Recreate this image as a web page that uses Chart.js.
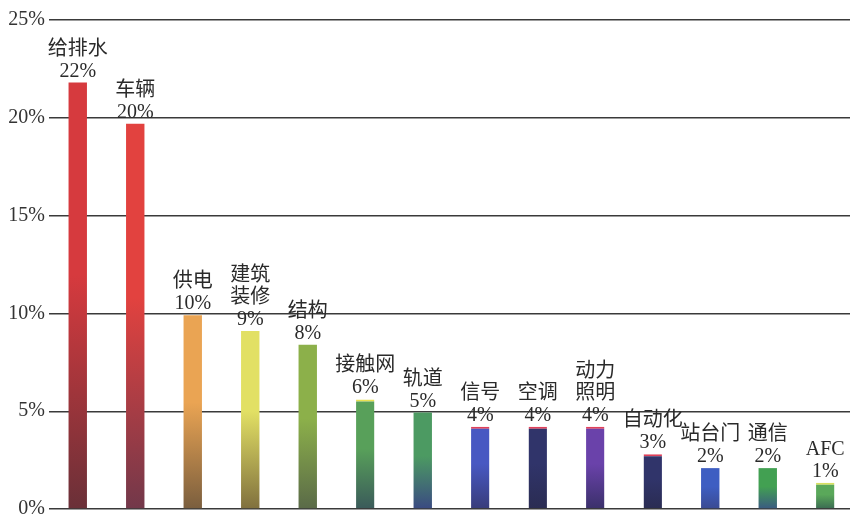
<!DOCTYPE html>
<html>
<head>
<meta charset="utf-8">
<script src="https://cdn.jsdelivr.net/npm/chart.js@4"></script>
<style>
html,body{margin:0;padding:0;background:#fff;overflow:hidden;}
#wrap{width:854px;height:525px;}
</style>
</head>
<body>
<div id="wrap"><canvas id="c" width="854" height="525"></canvas></div>
<script>
const categories = ['给排水', '车辆', '供电', ['建筑', '装修'], '结构', '接触网', '轨道', '信号', '空调', ['动力', '照明'], '自动化', '站台门', '通信', 'AFC'];
const values = [21.8, 19.7, 9.9, 9.1, 8.4, 5.6, 4.93, 4.2, 4.2, 4.2, 2.8, 2.09, 2.09, 1.34];
const pctLabels = ['22%', '20%', '10%', '9%', '8%', '6%', '5%', '4%', '4%', '4%', '3%', '2%', '2%', '1%'];
const yTicks = [0, 5, 10, 15, 20, 25];

const topColors = ['#d63a3e', '#e2423f', '#eaa453', '#e2e064', '#8cb04a', '#58a05a', '#4c9a62', '#4858c2', '#30346a', '#6a42aa', '#30346a', '#3e5ec2', '#42a052', '#5aa85a'];
const bottomColors = ['#6a3038', '#72384a', '#7a5e3e', '#80703e', '#5a6a48', '#3a5a5a', '#3a4a82', '#383c7a', '#2a2c52', '#3a306a', '#2a2c52', '#3a4a92', '#3a5a82', '#3a6a52'];
const capColors = [null, null, null, null, null, '#e8e050', null, '#e0405a', '#e0405a', '#e0405a', '#e0405a', null, null, '#d8e060'];

const FONT = "'Liberation Serif', 'Noto Sans CJK SC', serif";

const labelPlugin = {
  id: 'barLabels',
  afterDatasetsDraw(chart) {
    const ctx = chart.ctx;
    const meta = chart.getDatasetMeta(0);
    ctx.save();
    ctx.fillStyle = '#2a2a2a';
    ctx.textAlign = 'center';
    ctx.textBaseline = 'alphabetic';
    ctx.font = "20px " + FONT;
    meta.data.forEach((bar, i) => {
      const name = categories[i];
      const lines = (Array.isArray(name) ? name.slice() : [name]);
      lines.push(pctLabels[i]);
      let y = bar.y - 6;
      for (let k = lines.length - 1; k >= 0; k--) {
        ctx.fillText(lines[k], bar.x, y);
        y -= 22;
      }
    });
    ctx.restore();
  }
};

new Chart(document.getElementById('c'), {
  type: 'bar',
  data: {
    labels: categories,
    datasets: [{
      data: values,
      backgroundColor(context) {
        const chart = context.chart;
        const i = context.dataIndex;
        const area = chart.chartArea;
        if (!area || i === undefined) return topColors[i] || '#888';
        const yScale = chart.scales.y;
        const top = yScale.getPixelForValue(values[i]);
        const bottom = yScale.getPixelForValue(0);
        const g = chart.ctx.createLinearGradient(0, top, 0, bottom);
        g.addColorStop(0, topColors[i]);
        g.addColorStop(0.45, topColors[i]);
        g.addColorStop(1, bottomColors[i]);
        return g;
      },
      borderColor: capColors.map(c => c || 'rgba(0,0,0,0)'),
      borderWidth: capColors.map(c => c ? {top: 2, left: 0, right: 0, bottom: 0} : 0),
      borderSkipped: 'bottom',
      barPercentage: 0.32,
      categoryPercentage: 1.0
    }]
  },
  options: {
    responsive: false,
    animation: false,
    layout: { padding: { top: 20, bottom: 0, left: 0, right: 0 } },
    plugins: { legend: { display: false }, tooltip: { enabled: false } },
    scales: {
      x: { display: false },
      y: {
        min: 0, max: 25,
        afterBuildTicks(scale) { scale.ticks = yTicks.map(v => ({ value: v })); },
        afterFit(scale) { scale.width = 49; },
        ticks: {
          callback: v => v + '%',
          font: { family: FONT, size: 20 },
          color: '#333',
          padding: 4
        },
        grid: { color: '#3a3a3a', lineWidth: 1.4, drawTicks: false },
        border: { display: false }
      }
    }
  },
  plugins: [labelPlugin]
});
</script>
</body>
</html>
